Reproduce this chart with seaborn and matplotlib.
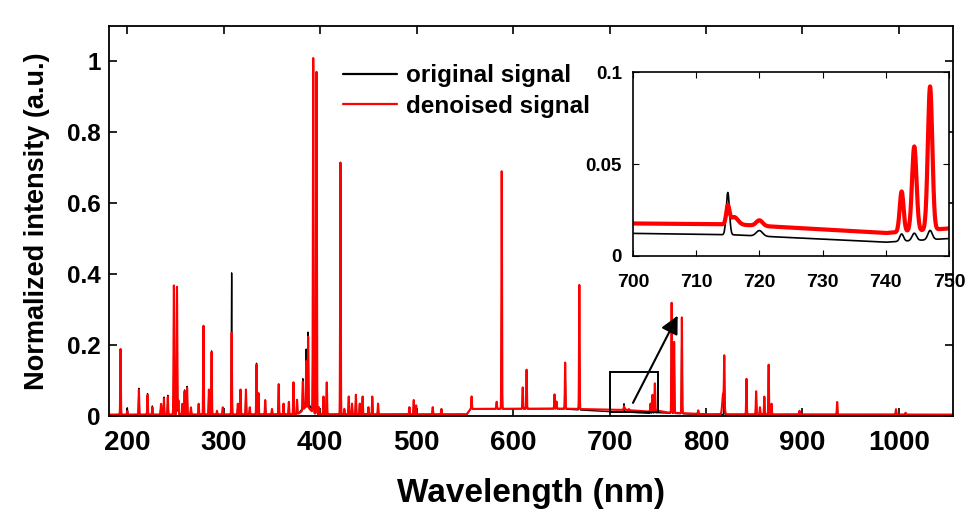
import numpy as np
import pandas as pd
import matplotlib
matplotlib.use("Agg")
import matplotlib.pyplot as plt
from matplotlib.patches import Rectangle
import seaborn as sns

# Emission lines: centre (nm), height above baseline for the original and the
# denoised spectrum, and Gaussian width (nm).
line_nm = [193.0, 200.0, 212.0, 221.0, 226.0, 235.0, 238.0, 242.0, 248.3, 251.5,
           253.0, 257.0, 259.4, 262.0, 266.0, 274.0, 279.0, 284.6, 287.4, 293.0,
           299.0, 308.2, 314.6, 317.4, 323.0, 327.0, 334.0, 336.0, 343.0, 350.0,
           357.0, 362.0, 367.5, 372.3, 376.0, 382.0, 385.5, 386.0, 387.5, 392.8,
           396.2, 398.6, 403.4, 406.8, 421.0, 425.0, 429.6, 433.0, 437.0, 441.0,
           444.0, 450.0, 454.0, 460.0, 492.5, 497.0, 499.5, 516.7, 525.7, 557.0,
           583.0, 588.2, 610.0, 614.0, 643.0, 645.0, 654.0, 668.7, 715.0, 716.0,
           720.0, 742.5, 744.5, 747.0, 764.4, 767.0, 775.0, 792.0, 818.0, 819.0,
           842.0, 852.0, 856.0, 860.5, 865.0, 868.0, 897.0, 936.0, 997.0, 1007.0]
orig_height = [0.18, 0.02, 0.075, 0.06, 0.025, 0.03, 0.05, 0.055, 0.15, 0.20,
               0.03, 0.03, 0.07, 0.08, 0.02, 0.03, 0.25, 0.07, 0.18, 0.01,
               0.02, 0.40, 0.03, 0.07, 0.07, 0.02, 0.145, 0.05, 0.04, 0.015,
               0.085, 0.03, 0.03, 0.09, 0.04, 0.08, 0.15, 0.035, 0.20, 0.56,
               0.40, 0.02, 0.05, 0.09, 0.09, 0.015, 0.05, 0.03, 0.055, 0.03,
               0.05, 0.02, 0.05, 0.03, 0.02, 0.04, 0.025, 0.02, 0.015, 0.035,
               0.02, 0.30, 0.06, 0.11, 0.04, 0.02, 0.13, 0.20, 0.023, 0.0,
               0.003, 0.004, 0.004, 0.005, 0.31, 0.20, 0.27, 0.01, 0.0, 0.13,
               0.10, 0.065, 0.02, 0.05, 0.14, 0.03, 0.01, 0.035, 0.015, 0.005]
denoised_height = [0.185, 0.01, 0.07, 0.055, 0.02, 0.03, 0.045, 0.05, 0.364, 0.36,
                   0.04, 0.03, 0.065, 0.075, 0.02, 0.03, 0.25, 0.07, 0.175, 0.01,
                   0.02, 0.23, 0.03, 0.07, 0.07, 0.02, 0.14, 0.06, 0.04, 0.015,
                   0.085, 0.03, 0.035, 0.09, 0.04, 0.08, 0.13, 0.02, 0.20, 1.0,
                   0.965, 0.02, 0.05, 0.09, 0.71, 0.015, 0.05, 0.03, 0.055, 0.03,
                   0.05, 0.02, 0.05, 0.03, 0.02, 0.04, 0.025, 0.02, 0.015, 0.035,
                   0.02, 0.67, 0.06, 0.11, 0.04, 0.02, 0.13, 0.35, 0.0095, 0.004,
                   0.003, 0.022, 0.046, 0.078, 0.31, 0.20, 0.27, 0.01, 0.06, 0.13,
                   0.10, 0.065, 0.02, 0.05, 0.14, 0.03, 0.01, 0.035, 0.015, 0.005]
line_width = [0.3, 0.3, 0.3, 0.3, 0.3, 0.4, 0.3, 0.3, 0.35, 0.35,
              0.3, 0.3, 0.3, 0.3, 0.3, 0.3, 0.3, 0.3, 0.3, 0.3,
              0.3, 0.3, 0.3, 0.3, 0.3, 0.3, 0.3, 0.3, 0.3, 0.3,
              0.3, 0.3, 0.3, 0.3, 0.3, 0.3, 0.3, 4.0, 0.3, 0.35,
              0.35, 0.3, 0.3, 0.3, 0.3, 0.3, 0.3, 0.3, 0.3, 0.3,
              0.3, 0.3, 0.3, 0.3, 0.3, 0.3, 0.3, 0.3, 0.3, 0.3,
              0.3, 0.3, 0.3, 0.3, 0.3, 0.3, 0.3, 0.3, 0.25, 0.6,
              0.5, 0.3, 0.35, 0.35, 0.3, 0.3, 0.3, 0.3, 1.0, 0.3,
              0.3, 0.3, 0.3, 0.3, 0.3, 0.3, 0.3, 0.3, 0.3, 0.3]

# Continuum level of each spectrum at a few wavelengths.
base_nm = [181, 370, 460, 552, 556, 650, 700, 716, 740, 750, 760, 800, 1056]
orig_base = [0.003, 0.004, 0.004, 0.004, 0.020, 0.020, 0.0123, 0.0115, 0.0075, 0.0095, 0.008, 0.004, 0.003]
denoised_base = [0.004, 0.005, 0.005, 0.005, 0.020, 0.021, 0.0177, 0.0172, 0.0125, 0.015, 0.010, 0.005, 0.004]

x_ticks = [200, 300, 400, 500, 600, 700, 800, 900, 1000]
y_ticks = [0, 0.2, 0.4, 0.6, 0.8, 1.0]
y_tick_labels = ["0", "0.2", "0.4", "0.6", "0.8", "1"]
inset_x_ticks = [700, 710, 720, 730, 740, 750]
inset_y_ticks = [0, 0.05, 0.1]
inset_y_tick_labels = ["0", "0.05", "0.1"]


def spectrum(grid, heights, base):
    centres = np.asarray(line_nm)[:, None]
    sig = np.asarray(line_width)[:, None]
    amp = np.asarray(heights)[:, None]
    lines = (amp * np.exp(-0.5 * ((grid[None, :] - centres) / sig) ** 2)).sum(axis=0)
    return np.interp(grid, base_nm, base) + lines


wl = np.arange(181.0, 1056.0, 0.05)
df = pd.DataFrame({
    "wavelength": wl,
    "original": spectrum(wl, orig_height, orig_base),
    "denoised": spectrum(wl, denoised_height, denoised_base),
})

sns.set_theme(style="ticks")
plt.rcParams["font.family"] = ["Liberation Sans", "DejaVu Sans"]
plt.rcParams["font.weight"] = "bold"
plt.rcParams["text.color"] = "black"
plt.rcParams["axes.labelcolor"] = "black"
plt.rcParams["xtick.color"] = "black"
plt.rcParams["ytick.color"] = "black"

fig = plt.figure(figsize=(9.79, 5.12), dpi=100)
ax = fig.add_axes([0.1113, 0.1875, 0.862, 0.7617])

sns.lineplot(data=df, x="wavelength", y="original", ax=ax, color="black",
             lw=1.0, estimator=None, label="original signal")
sns.lineplot(data=df, x="wavelength", y="denoised", ax=ax, color="#ff0000",
             lw=1.5, estimator=None, label="denoised signal")

ax.set_xlim(181, 1056)
ax.set_ylim(0, 1.1)
ax.set_xticks(x_ticks)
ax.set_yticks(y_ticks)
ax.set_yticklabels(y_tick_labels)
ax.tick_params(direction="in", top=True, right=True, length=6, width=1.2)
ax.tick_params(axis="x", labelsize=20, pad=10)
ax.tick_params(axis="y", labelsize=17.5, pad=6)
for lab in ax.get_xticklabels() + ax.get_yticklabels():
    lab.set_fontweight("bold")
for sp in ax.spines.values():
    sp.set_linewidth(1.3)
    sp.set_color("black")
ax.set_xlabel("Wavelength (nm)", fontsize=24, fontweight="bold", labelpad=16)
ax.set_ylabel("Normalized intensity (a.u.)", fontsize=19.5, fontweight="bold", labelpad=12)

leg = ax.legend(loc="upper left", bbox_to_anchor=(0.277, 0.902), frameon=False,
                prop={"weight": "bold", "size": 17.5}, handlelength=2.25,
                handletextpad=0.37, labelspacing=0.3, borderaxespad=0, borderpad=0)
for h in leg.get_lines():
    h.set_linewidth(1.6)

# zoom box and pointer to the inset
ax.add_patch(Rectangle((700, 0.011), 50, 0.114, fill=False, ec="black", lw=1.4, zorder=5))
ax.annotate("", xy=(772, 0.29), xytext=(723, 0.03),
            arrowprops=dict(arrowstyle="-|>,head_length=0.9,head_width=0.45",
                            color="black", lw=1.5), zorder=6)

ins = fig.add_axes([0.6466, 0.5, 0.3228, 0.359])
sub = df[(df["wavelength"] >= 700) & (df["wavelength"] <= 750)]
sns.lineplot(data=sub, x="wavelength", y="original", ax=ins, color="black",
             lw=1.2, estimator=None)
sns.lineplot(data=sub, x="wavelength", y="denoised", ax=ins, color="#ff0000",
             lw=3.0, estimator=None)
ins.set_xlim(700, 750)
ins.set_ylim(0, 0.1)
ins.set_xticks(inset_x_ticks)
ins.set_yticks(inset_y_ticks)
ins.set_yticklabels(inset_y_tick_labels)
ins.set_xlabel("")
ins.set_ylabel("")
ins.tick_params(direction="in", top=True, right=True, length=4, width=0.8)
ins.tick_params(axis="x", labelsize=14, pad=13)
ins.tick_params(axis="y", labelsize=13.5, pad=8)
for lab in ins.get_xticklabels() + ins.get_yticklabels():
    lab.set_fontweight("bold")
for sp in ins.spines.values():
    sp.set_linewidth(1.2)
    sp.set_color("black")

fig.savefig("out.png", dpi=100)
